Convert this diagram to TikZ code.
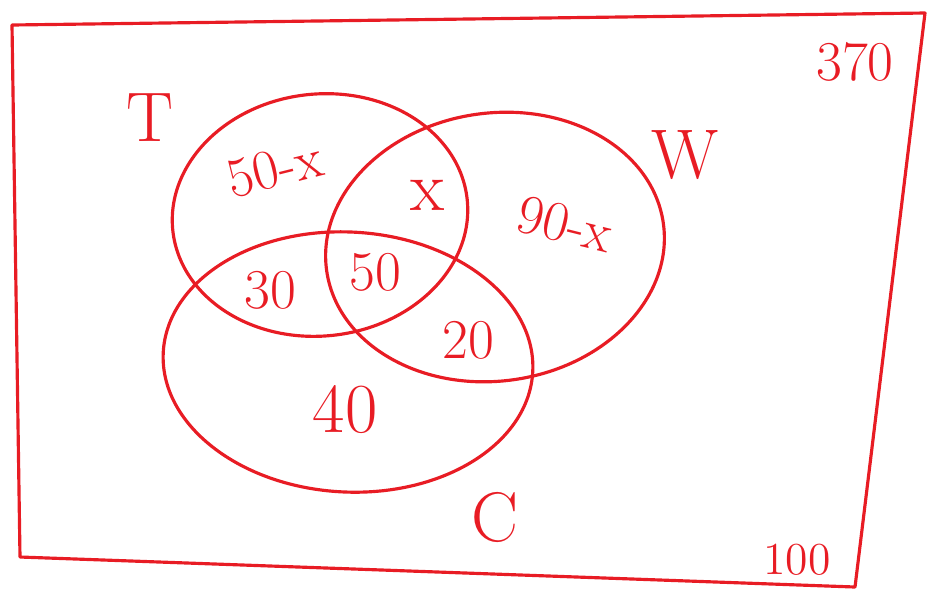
\documentclass[tikz,border=0pt]{standalone}
\usepackage{tikz}

\definecolor{pen}{RGB}{232,28,36}

\begin{document}
\begin{tikzpicture}
[pen line/.style={draw=pen, line width=0.9pt, line cap=round, line join=round},
 big/.style={text=pen, font=\fontsize{20}{22}\selectfont},
 mid/.style={text=pen, font=\fontsize{16}{18}\selectfont},
 small/.style={text=pen, font=\fontsize{13}{15}\selectfont}
]
\useasboundingbox (0,0) rectangle (9.3,5.99);

% corners of the universal set
\coordinate (tl) at (0.12,5.74);
\coordinate (tr) at (9.25,5.86);
\coordinate (br) at (8.55,0.12);
\coordinate (bl) at (0.2,0.42);
\draw[pen line] (tl) -- (tr) -- (br) -- (bl) -- cycle;

% the three sets
\coordinate (tc) at (3.2,3.84);
\coordinate (wc) at (4.95,3.52);
\coordinate (cc) at (3.48,2.37);
\draw[pen line, rotate around={6:(tc)}] (tc) ellipse (1.48 and 1.21);% T
\draw[pen line, rotate around={8:(wc)}] (wc) ellipse (1.7 and 1.34);% W
\draw[pen line, rotate around={-3:(cc)}] (cc) ellipse (1.85 and 1.3);% C

\node[big] (lT) at (1.5,4.81) {T};
\node[big] (lW) at (6.85,4.44) {W};
\node[big] (lC) at (4.95,0.82) {C};
\node[mid] (total) at (8.55,5.37) {370};
\node[small] (none) at (7.97,0.39) {100};

\node[mid, rotate=14] (tonly) at (2.75,4.3) {50-x};
\node[big] (tw) at (4.28,4.04) {x};
\node[mid, rotate=-14] (wonly) at (5.65,3.75) {90-x};
\node[mid] (tcn) at (2.7,3.09) {30};
\node[mid] (all) at (3.75,3.27) {50};
\node[mid] (wcn) at (4.68,2.59) {20};
\node[big] (conly) at (3.45,1.89) {40};

\end{tikzpicture}
\end{document}
